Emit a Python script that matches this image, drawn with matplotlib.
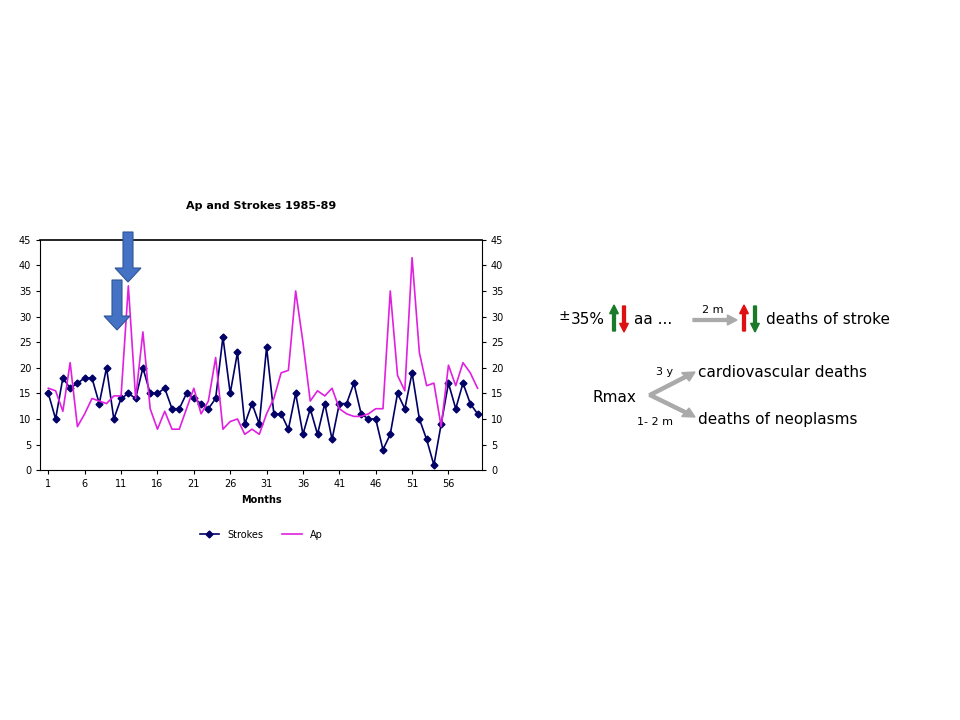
import matplotlib.pyplot as plt
from matplotlib.patches import FancyArrow, Polygon

months = list(range(1, 61))
strokes = [15, 10, 18, 16, 17, 18, 18, 13, 20, 10, 14, 15, 14, 20, 15, 15, 16, 12, 12, 15,
           14, 13, 12, 14, 26, 15, 23, 9, 13, 9, 24, 11, 11, 8, 15, 7, 12, 7, 13, 6,
           13, 13, 17, 11, 10, 10, 4, 7, 15, 12, 19, 10, 6, 1, 9, 17, 12, 17, 13, 11]
ap = [16, 15.5, 11.5, 21, 8.5, 11, 14, 13.5, 13, 14.5, 14.5, 36, 14, 27, 12, 8, 11.5, 8, 8, 12,
      16, 11, 13.5, 22, 8, 9.5, 10, 7, 8, 7, 11, 14, 19, 19.5, 35, 25, 13.5, 15.5, 14.5, 16,
      12, 11, 10.5, 10.5, 11, 12, 12, 35, 18.5, 15.5, 41.5, 23, 16.5, 17, 8.5, 20.5, 16.5, 21, 19, 16]
xticks = [1, 6, 11, 16, 21, 26, 31, 36, 41, 46, 51, 56]

fig = plt.figure(figsize=(9.6, 7.2), dpi=100)
ax = fig.add_axes([0.042, 0.347, 0.46, 0.32])
ax.plot(months, strokes, color='#000066', marker='D', markersize=3.5, lw=1.2, label='Strokes')
ax.plot(months, ap, color='#e020e0', lw=1.2, label='Ap')
ax.set_xlim(-0.1, 60.6)
ax.set_ylim(0, 45)
ax.set_yticks(range(0, 46, 5))
ax.set_xticks(xticks)
ax.tick_params(labelsize=7, direction='out', length=3)
ax.tick_params(axis='y', right=True, labelright=True)
for s in ['left', 'bottom', 'right']:
    ax.spines[s].set_linewidth(0.8)
ax.spines['top'].set_linewidth(1.2)
ax.set_xlabel('Months', fontsize=7, fontweight='bold')
ax.set_title('Ap and Strokes 1985-89', fontsize=8, fontweight='bold', pad=22)
ax.legend(loc='upper center', bbox_to_anchor=(0.5, -0.22), ncol=2, frameon=False, fontsize=7)

# blue block arrows
blue = '#4472c4'
for cx, top, bot in [(128 / 960, 232, 282), (117 / 960, 280, 330)]:
    w, hw, hh = 10 / 960, 26 / 960, 14
    pts = [(cx - w / 2, top), (cx + w / 2, top), (cx + w / 2, bot - hh), (cx + hw / 2, bot - hh),
           (cx, bot), (cx - hw / 2, bot - hh), (cx - w / 2, bot - hh)]
    pts = [(x, 1 - y / 720) for x, y in pts]
    fig.patches.append(Polygon(pts, closed=True, transform=fig.transFigure,
                               facecolor=blue, edgecolor='#2f5597', lw=0.8, zorder=10))

def fy(y):
    return 1 - y / 720

def fx(x):
    return x / 960

def small_arrow(x, y0, y1, color):
    fig.patches.append(FancyArrow(fx(x), fy(y0), 0, fy(y1) - fy(y0), width=0.003,
                                  head_width=0.009, head_length=0.012, length_includes_head=True,
                                  transform=fig.transFigure, color=color))

fig.text(fx(558), fy(316), '±', fontsize=10, va='center')
fig.text(fx(571), fy(320), '35%', fontsize=11, va='center')
small_arrow(614, 331, 305, '#1a7a2a')
small_arrow(624, 306, 332, '#dd1111')
fig.text(fx(634), fy(320), 'aa ...', fontsize=11, va='center')
fig.patches.append(FancyArrow(fx(693), fy(320), fx(737) - fx(693), 0, width=0.004,
                              head_width=0.014, head_length=0.01, length_includes_head=True,
                              transform=fig.transFigure, color='#aaaaaa'))
fig.text(fx(702), fy(310), '2 m', fontsize=8, va='center')
small_arrow(744, 331, 305, '#dd1111')
small_arrow(755, 306, 332, '#1a7a2a')
fig.text(fx(766), fy(320), 'deaths of stroke', fontsize=11, va='center')

fig.text(fx(593), fy(397), 'Rmax', fontsize=11, va='center')
for x1, y1 in [(695, 372), (695, 417)]:
    fig.patches.append(FancyArrow(fx(650), fy(395), fx(x1) - fx(650), fy(y1) - fy(395),
                                  width=0.004, head_width=0.014, head_length=0.012,
                                  length_includes_head=True, transform=fig.transFigure,
                                  color='#aaaaaa'))
fig.text(fx(656), fy(372), '3 y', fontsize=8, va='center')
fig.text(fx(637), fy(422), '1- 2 m', fontsize=8, va='center')
fig.text(fx(698), fy(372), 'cardiovascular deaths', fontsize=11, va='center')
fig.text(fx(698), fy(419), 'deaths of neoplasms', fontsize=11, va='center')

fig.savefig('out.png', dpi=100)
